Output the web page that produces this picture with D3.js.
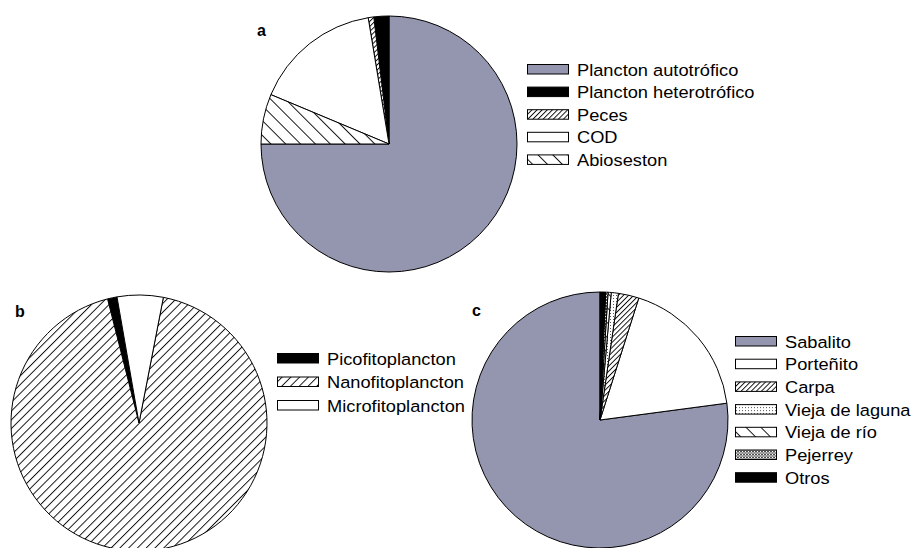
<!DOCTYPE html>
<html><head><meta charset="utf-8">
<script src="https://cdn.jsdelivr.net/npm/d3@7"></script>
<style>body{margin:0;background:#fff}svg{display:block}text{font-family:"Liberation Sans",Arial,sans-serif}</style>
</head><body>
<script>
// Panel a
const catsA = ["Plancton autotrófico","Plancton heterotrófico","Peces","COD","Abioseston"];
const valsA = [75.0, 1.9, 0.7, 16.1, 6.3];
const fillA = ["gray","black","hatchDense","white","hatchBack"];
// Panel b
const catsB = ["Picofitoplancton","Nanofitoplancton","Microfitoplancton"];
const valsB = [1.2, 93.0, 5.8];
const fillB = ["black","hatchMid","white"];
// Panel c
const catsC = ["Sabalito","Porteñito","Carpa","Vieja de laguna","Vieja de río","Pejerrey","Otros"];
const valsC = [77.1, 18.0, 2.6, 0.9, 0.4, 0.3, 0.7];
const fillC = ["gray","white","hatchDense","dots","hatchBack","cross","black"];

const W = 912, H = 548;
const svg = d3.select("body").append("svg").attr("width", W).attr("height", H);
const defs = svg.append("defs");

function linePattern(id, spacing, angle){
  const p = defs.append("pattern").attr("id", id).attr("patternUnits","userSpaceOnUse")
    .attr("width", spacing).attr("height", spacing)
    .attr("patternTransform", `rotate(${angle})`);
  p.append("rect").attr("width", spacing).attr("height", spacing).attr("fill","#fff");
  p.append("line").attr("x1",0.5).attr("y1",0).attr("x2",0.5).attr("y2",spacing)
    .attr("stroke","#000").attr("stroke-width",0.9);
}
linePattern("hatchDense", 3.6, 45);
linePattern("hatchMid", 6.2, 45);
linePattern("hatchBack", 10.5, -45);
// dots
{
  const p = defs.append("pattern").attr("id","dots").attr("patternUnits","userSpaceOnUse").attr("width",3).attr("height",3);
  p.append("rect").attr("width",3).attr("height",3).attr("fill","#fff");
  p.append("rect").attr("x",1).attr("y",1).attr("width",1).attr("height",1).attr("fill","#555");
}
// cross
{
  const p = defs.append("pattern").attr("id","cross").attr("patternUnits","userSpaceOnUse").attr("width",3).attr("height",3);
  p.append("rect").attr("width",3).attr("height",3).attr("fill","#fff");
  p.append("path").attr("d","M0,0L3,3M3,0L0,3").attr("stroke","#222").attr("stroke-width",0.8);
}

const GRAY = "#9495ae";
function fillOf(k){
  if (k === "gray") return GRAY;
  if (k === "black") return "#000";
  if (k === "white") return "#fff";
  return `url(#${k})`;
}
const deg = Math.PI/180;

function drawPie(cats, vals, fills, cx, cy, r, startDeg){
  const pie = d3.pie().sort(null).value(d => d.v)
    .startAngle(startDeg*deg).endAngle(startDeg*deg - 2*Math.PI);
  const data = cats.map((c,i)=>({c, v: vals[i], f: fills[i]}));
  const arc = d3.arc().innerRadius(0).outerRadius(r);
  const g = svg.append("g").attr("transform", `translate(${cx},${cy})`);
  g.selectAll("path").data(pie(data)).join("path")
    .attr("d", arc).attr("fill", d => fillOf(d.data.f))
    .attr("stroke", "#000").attr("stroke-width", 1).attr("stroke-linejoin","round");
}

function drawLegend(cats, fills, x, y0, dy){
  const y = d3.scalePoint().domain(cats).range([y0, y0 + dy*(cats.length-1)]);
  const g = svg.append("g");
  const rows = g.selectAll("g").data(cats.map((c,i)=>({c, f: fills[i]}))).join("g")
    .attr("transform", d => `translate(${x},${y(d.c)})`);
  rows.append("rect").attr("x",0.5).attr("y",-4.5).attr("width",41).attr("height",9.5)
    .attr("fill", d => fillOf(d.f)).attr("stroke","#000").attr("stroke-width",1);
  rows.append("text").attr("transform","translate(50,6.5) scale(1.12,1)")
    .attr("font-size",16.3).text(d => d.c);
}

function label(t, x, y){
  svg.append("text").attr("x",x).attr("y",y).attr("font-size",16).attr("font-weight","bold").text(t);
}

drawPie(catsA, valsA, fillA, 389, 144, 128, 270);
drawLegend(catsA, fillA, 527, 69, 22.6);
label("a", 257, 36);

drawPie(catsB, valsB, fillB, 139, 423, 128, 350.1);
drawLegend(catsB, fillB, 277, 358, 23.5);
label("b", 15, 317);

drawPie(catsC, valsC, fillC, 600, 420, 128, 0);
drawLegend(catsC, fillC, 735, 341, 22.7);
label("c", 472, 316);
</script>
</body></html>
